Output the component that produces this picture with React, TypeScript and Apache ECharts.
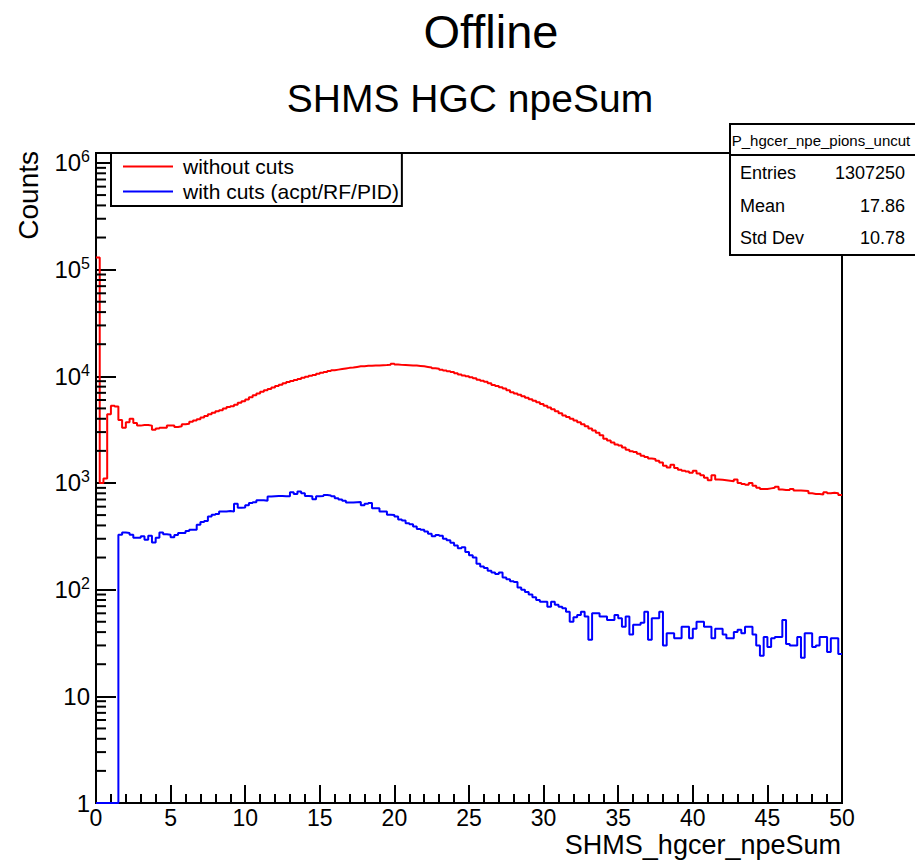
import React, { useEffect, useRef } from "react";
import * as echarts from "echarts";

const FONT = "'Liberation Sans', Arial, Helvetica, sans-serif";

const BIN_WIDTH = 0.25;
const X_MIN = 0;
const X_MAX = 50;
const X_INTERVAL = 5;
const Y_MIN = 1;
const Y_MAX = 1.24e6;

const TITLE = "Offline";
const SUBTITLE = "SHMS HGC npeSum";
const X_NAME = "SHMS_hgcer_npeSum";
const Y_NAME = "Counts";
const SERIES_NAMES = ["without cuts", "with cuts (acpt/RF/PID)"];
const SERIES_COLORS = ["#ff0000", "#0000ff"];

const STATS_NAME = "P_hgcer_npe_pions_uncut";
const STATS_LABELS = ["Entries", "Mean", "Std Dev"];
const STATS_VALUES = ["1307250", "17.86", "10.78"];

// counts per bin (bin width 0.25, 200 bins from 0 to 50)
const redCounts = [
  130000, 1000, 1100, 4400, 5300, 5200, 3900, 3300, 3700, 4000,
  3650, 3450, 3500, 3500, 3450, 3150, 3250, 3300, 3300, 3450,
  3450, 3350, 3400, 3550, 3600, 3750, 3850, 3950, 4100, 4250,
  4400, 4550, 4700, 4800, 5000, 5150, 5250, 5400, 5650, 5850,
  6050, 6350, 6650, 6900, 7150, 7400, 7600, 7850, 8100, 8350,
  8600, 8850, 9050, 9250, 9450, 9700, 9900, 10100, 10300, 10550,
  10800, 11000, 11200, 11400, 11550, 11700, 11850, 12000, 12100, 12250,
  12400, 12450, 12550, 12550, 12600, 12650, 12700, 12750, 12850, 13100,
  12900, 12800, 12750, 12700, 12650, 12600, 12500, 12400, 12250, 12100,
  11900, 11750, 11550, 11350, 11150, 10950, 10700, 10400, 10200, 10000,
  9800, 9600, 9300, 9100, 8900, 8600, 8300, 8100, 7900, 7700,
  7400, 7100, 6900, 6700, 6500, 6300, 6100, 5900, 5700, 5500,
  5300, 5100, 4900, 4700, 4500, 4300, 4150, 4000, 3850, 3700,
  3550, 3400, 3250, 3100, 2950, 2800, 2600, 2500, 2400, 2300,
  2250, 2150, 2050, 1980, 1950, 1880, 1800, 1750, 1700, 1680,
  1620, 1560, 1450, 1400, 1480, 1380, 1330, 1300, 1280, 1250,
  1300, 1230, 1180, 1120, 1060, 1180, 1080, 1070, 1060, 1050,
  1040, 1080, 1000, 980, 960, 1000, 940, 900, 880, 880,
  890, 900, 920, 870, 860, 860, 880, 850, 850, 845,
  840, 800, 790, 790, 780, 820, 800, 810, 800, 770,
];

const blueCounts = [
  0, 0, 0, 0, 0, 0, 327, 343, 340, 327,
  306, 306, 316, 293, 320, 276, 306, 343, 330, 327,
  310, 325, 340, 340, 355, 364, 364, 405, 430, 440,
  485, 505, 513, 540, 540, 545, 540, 640, 585, 590,
  620, 650, 660, 690, 690, 680, 745, 750, 755, 755,
  750, 750, 820, 790, 830, 800, 755, 750, 705, 750,
  755, 770, 765, 750, 720, 700, 680, 655, 655, 660,
  665, 620, 640, 650, 580, 580, 540, 540, 505, 500,
  485, 455, 445, 420, 410, 390, 370, 364, 350, 334,
  316, 325, 320, 300, 290, 275, 260, 245, 250, 225,
  210, 200, 175, 165, 160, 150, 145, 140, 145, 130,
  125, 120, 118, 105, 100, 95, 90, 85, 80, 77,
  77, 69, 77, 72, 69, 67, 62, 50, 55, 58,
  62, 56, 34, 60, 60, 56, 56, 52, 52, 58,
  54, 45, 56, 38, 47, 47, 49, 62, 34, 54,
  54, 62, 30, 39, 39, 35, 35, 45, 45, 35,
  43, 50, 50, 45, 45, 35, 43, 43, 38, 35,
  35, 40, 42, 39, 45, 45, 38, 30, 24, 36,
  29, 35, 36, 36, 52, 31, 30, 30, 36, 23,
  39, 39, 29, 30, 36, 36, 26, 35, 35, 25,
];

// log minor tick mantissas
const MINOR_MANTISSAS = [2, 3, 4, 5, 6, 7, 8, 9];
const DECADES = [0, 1, 2, 3, 4, 5, 6];

function toSteps(counts: number[]): number[][] {
  const pts = counts.map((c, i) => [X_MIN + i * BIN_WIDTH, Math.max(c, Y_MIN)]);
  const last = counts[counts.length - 1];
  pts.push([X_MIN + counts.length * BIN_WIDTH, Math.max(last, Y_MIN)]);
  return pts;
}

function minorTickValues(): number[] {
  const out: number[] = [];
  DECADES.forEach((d) => {
    MINOR_MANTISSAS.forEach((m) => {
      const v = m * Math.pow(10, d);
      if (v > Y_MIN && v < Y_MAX) out.push(v);
    });
  });
  return out;
}

export default function App() {
  const ref = useRef<HTMLDivElement>(null);

  useEffect(() => {
    if (!ref.current) return;
    const chart = echarts.init(ref.current, undefined, { renderer: "svg" });

    const statsRows: any[] = [];
    STATS_LABELS.forEach((lab, i) => {
      const y = 173 + i * 32.5;
      statsRows.push({
        type: "text",
        x: 740,
        y,
        z: 101,
        style: { text: lab, font: `18px ${FONT}`, fill: "#000", textAlign: "left", textVerticalAlign: "middle" },
      });
      statsRows.push({
        type: "text",
        x: 905,
        y,
        z: 101,
        style: { text: STATS_VALUES[i], font: `18px ${FONT}`, fill: "#000", textAlign: "right", textVerticalAlign: "middle" },
      });
    });

    const option: any = {
      animation: false,
      backgroundColor: "#fff",
      grid: {
        left: 96,
        top: 153,
        right: 73,
        bottom: 58,
        show: true,
        borderColor: "#000",
        borderWidth: 2,
        backgroundColor: "transparent",
        containLabel: false,
      },
      legend: {
        data: SERIES_NAMES,
        orient: "vertical",
        left: 111,
        top: 153,
        itemWidth: 50,
        itemHeight: 2,
        itemGap: 4,
        icon: "rect",
        padding: [3, 3, 4, 12],
        backgroundColor: "#fff",
        borderColor: "#000",
        borderWidth: 2,
        borderRadius: 0,
        selectedMode: false,
        z: 50,
        textStyle: { fontSize: 21, fontFamily: FONT, color: "#000", padding: [0, 0, 0, 5] },
      },
      xAxis: {
        type: "value",
        min: X_MIN,
        max: X_MAX,
        interval: X_INTERVAL,
        axisLine: { show: false },
        splitLine: { show: false },
        axisTick: { show: true, inside: true, length: 18, lineStyle: { color: "#000", width: 2 } },
        minorTick: { show: true, splitNumber: 5, length: 9, lineStyle: { color: "#000", width: 2 } },
        axisLabel: { fontSize: 23, fontFamily: FONT, color: "#000", margin: 3 },
      },
      yAxis: {
        type: "log",
        logBase: 10,
        min: Y_MIN,
        max: Y_MAX,
        axisLine: { show: false },
        splitLine: { show: false },
        axisTick: { show: true, inside: true, length: 20, lineStyle: { color: "#000", width: 2 } },
        axisLabel: {
          fontSize: 24,
          fontFamily: FONT,
          color: "#000",
          margin: 6,
          lineHeight: 28,
          formatter: (v: number) => {
            const l = Math.log10(v);
            const e = Math.round(l);
            if (Math.abs(l - e) > 1e-6) return "";
            if (e === 0) return "1";
            if (e === 1) return "10";
            return `10{sup|${e}}`;
          },
          rich: {
            sup: { fontSize: 16, fontFamily: FONT, color: "#000", verticalAlign: "top", lineHeight: 15 },
          },
        },
      },
      series: [
        {
          name: SERIES_NAMES[0],
          type: "line",
          step: "end",
          data: toSteps(redCounts),
          showSymbol: false,
          color: SERIES_COLORS[0],
          lineStyle: { color: SERIES_COLORS[0], width: 2 },
          z: 3,
          silent: true,
        },
        {
          name: SERIES_NAMES[1],
          type: "line",
          step: "end",
          data: toSteps(blueCounts),
          showSymbol: false,
          color: SERIES_COLORS[1],
          lineStyle: { color: SERIES_COLORS[1], width: 2 },
          z: 3,
          silent: true,
        },
        {
          name: "minorTicks",
          type: "custom",
          silent: true,
          z: 4,
          data: minorTickValues().map((v) => [X_MIN, v]),
          renderItem: (_p: any, api: any) => {
            const pt = api.coord([X_MIN, api.value(1)]);
            return {
              type: "line",
              shape: { x1: pt[0], y1: pt[1], x2: pt[0] + 10, y2: pt[1] },
              style: { stroke: "#000", lineWidth: 2 },
            };
          },
        },
      ],
      graphic: [
        {
          type: "text",
          x: 491,
          y: 31,
          z: 100,
          style: { text: TITLE, font: `47px ${FONT}`, fill: "#000", textAlign: "center", textVerticalAlign: "middle" },
        },
        {
          type: "text",
          x: 470,
          y: 98,
          z: 100,
          style: { text: SUBTITLE, font: `39px ${FONT}`, fill: "#000", textAlign: "center", textVerticalAlign: "middle" },
        },
        {
          type: "text",
          x: 28,
          y: 151,
          rotation: Math.PI / 2,
          z: 100,
          style: { text: Y_NAME, font: `28px ${FONT}`, fill: "#000", textAlign: "right", textVerticalAlign: "middle" },
        },
        {
          type: "text",
          x: 841,
          y: 845,
          z: 100,
          style: { text: X_NAME, font: `27px ${FONT}`, fill: "#000", textAlign: "right", textVerticalAlign: "middle" },
        },
        {
          type: "rect",
          z: 100,
          shape: { x: 730, y: 124, width: 195, height: 131 },
          style: { fill: "#fff", stroke: "#000", lineWidth: 2 },
        },
        {
          type: "line",
          z: 101,
          shape: { x1: 730, y1: 155, x2: 915, y2: 155 },
          style: { stroke: "#000", lineWidth: 2 },
        },
        {
          type: "text",
          x: 821,
          y: 140,
          z: 101,
          style: { text: STATS_NAME, font: `15px ${FONT}`, fill: "#000", textAlign: "center", textVerticalAlign: "middle" },
        },
        ...statsRows,
      ],
    };

    chart.setOption(option);
    return () => chart.dispose();
  }, []);

  return (
    <div
      ref={ref}
      style={{ position: "fixed", left: 0, top: 0, width: 915, height: 861, background: "#fff" }}
    />
  );
}
